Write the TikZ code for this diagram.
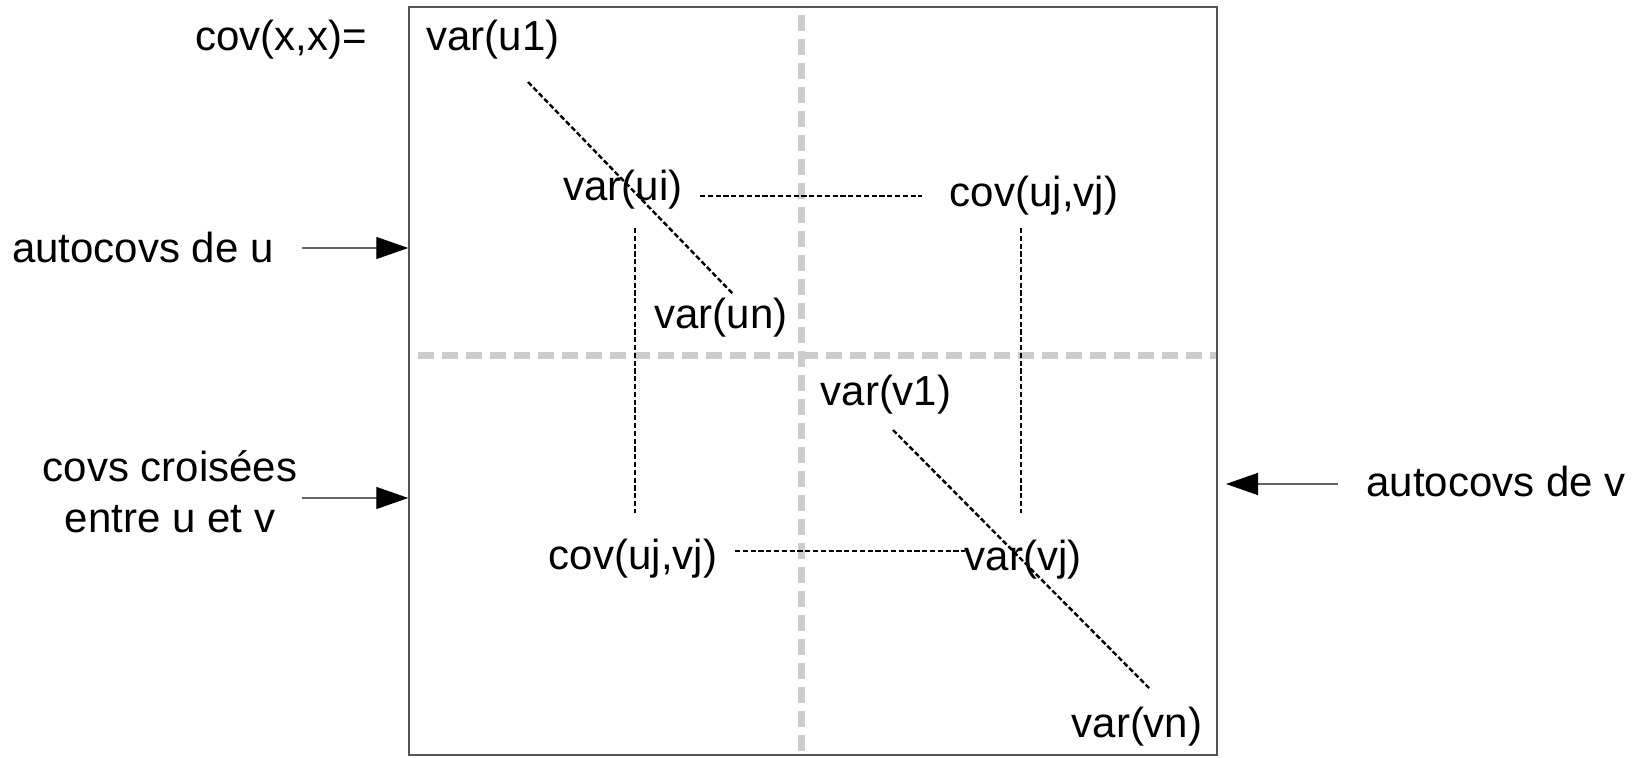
\documentclass[tikz,border=0pt]{standalone}
\usepackage{fontspec}
\setmainfont{Liberation Sans}
\usetikzlibrary{arrows.meta}
\definecolor{framegray}{RGB}{85,85,85}
\definecolor{gridgray}{RGB}{204,204,204}
\definecolor{arrowgray}{RGB}{100,100,100}
\begin{document}
\begin{tikzpicture}[x=0.5pt,y=-0.5pt,
  lbl/.style={inner sep=0pt, anchor=base, font=\fontsize{21}{25}\selectfont},
  frame/.style={draw=framegray, line width=0.75pt, minimum width=404pt,
                minimum height=374pt, inner sep=0pt},
  gridline/.style={draw=gridgray, line width=3.5pt, dash pattern=on 8pt off 4pt},
  link/.style={draw=black, line width=1.2pt, dash pattern=on 2.6pt off 1.3pt},
  pointer/.style={draw=arrowgray, line width=0.7pt,
                  -{Triangle[length=16pt,width=11pt,color=black]}}
]
\useasboundingbox (0,0) rectangle (1635,758);

% block separators of the covariance matrix
\coordinate (vtop) at (801,15);
\coordinate (vbot) at (801,758);
\coordinate (hleft) at (418,356);
\coordinate (hright) at (1217,356);
\draw[gridline] (vtop) -- (vbot);
\draw[gridline] (hleft) -- (hright);

% the matrix frame
\node[frame] (box) at (813,381) {};

% entries
\node[lbl] (cxx) at (281,51) {cov(x,x)=};
\node[lbl] (u1)  at (493,51) {var(u1)};
\node[lbl] (ui)  at (623,201) {var(ui)};
\node[lbl] (cuv1) at (1034,207) {cov(uj,vj)};
\node[lbl] (un)  at (721,329) {var(un)};
\node[lbl] (v1)  at (886,406) {var(v1)};
\node[lbl] (cuv2) at (633,570) {cov(uj,vj)};
\node[lbl] (vj)  at (1023,571) {var(vj)};
\node[lbl] (vn)  at (1137,738) {var(vn)};

% side labels
\node[lbl] (au) at (143,263) {autocovs de u};
\node[lbl] (cc1) at (170,482) {covs croisées};
\node[lbl] (cc2) at (170,533) {entre u et v};
\node[lbl] (av) at (1496,497) {autocovs de v};

% dotted guides
\coordinate (du1) at (528,82);
\coordinate (du2) at (734,295);
\draw[link] (du1) -- (du2);
\coordinate (ht1) at (700,196);
\coordinate (ht2) at (922,196);
\draw[link] (ht1) -- (ht2);
\coordinate (vl1) at (635,228);
\coordinate (vl2) at (635,513);
\draw[link] (vl1) -- (vl2);
\coordinate (vr1) at (1021,228);
\coordinate (vr2) at (1021,513);
\draw[link] (vr1) -- (vr2);
\coordinate (dv1) at (893,430);
\coordinate (dv2) at (1149,688);
\draw[link] (dv1) -- (dv2);
\coordinate (hb1) at (735,551);
\coordinate (hb2) at (965,551);
\draw[link] (hb1) -- (hb2);

% pointers to the blocks
\coordinate (pau) at (302,248);
\draw[pointer] (pau) -- (pau -| box.west);
\coordinate (pcc) at (302,498);
\draw[pointer] (pcc) -- (pcc -| box.west);
\coordinate (pav) at (1338,484);
\coordinate (tav) at (1226,484);
\draw[pointer] (pav) -- (tav);
\end{tikzpicture}
\end{document}
